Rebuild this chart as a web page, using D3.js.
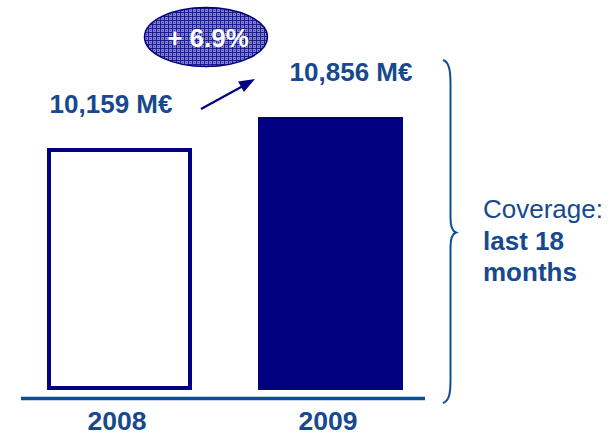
<!DOCTYPE html>
<html>
<head>
<meta charset="utf-8">
<script src="https://cdn.jsdelivr.net/npm/d3@7"></script>
<style>
  html, body { margin: 0; padding: 0; background: #fff; }
  svg { display: block; font-family: Arial, "Liberation Sans", sans-serif; }
</style>
</head>
<body>
<svg id="chart" width="615" height="435"></svg>
<script>
// Revenue by year (M€)
const years = ["2008", "2009"];
const revenue = [10159, 10856];
const valueLabels = ["10,159 M€", "10,856 M€"];
const growthLabel = "+ 6.9%";
const coverageLines = [
  { text: "Coverage:", bold: false },
  { text: "last 18", bold: true },
  { text: "months", bold: true }
];

const navy = "#000080";
const textBlue = "#17498f";
const axisBlue = "#0f4c94";

const svg = d3.select("#chart");

// Scales
const x = d3.scaleBand()
  .domain(years)
  .range([14, 436])
  .paddingInner(0.3128)
  .paddingOuter(0.1564);

const y = d3.scaleLinear()
  .domain([4718, 10856])
  .range([390, 117]);

// Pattern used to fill the growth bubble
const defs = svg.append("defs");
const pat = defs.append("pattern")
  .attr("id", "mesh")
  .attr("patternUnits", "userSpaceOnUse")
  .attr("width", 4).attr("height", 4);
pat.append("rect").attr("width", 4).attr("height", 4).attr("fill", "#8484c8");
pat.append("rect").attr("width", 4).attr("height", 1).attr("fill", "#1c1c8c");
pat.append("rect").attr("width", 1).attr("height", 4).attr("fill", "#1c1c8c");
pat.append("rect").attr("x", 2).attr("y", 2).attr("width", 1).attr("height", 1).attr("fill", "#3a3aa0");

// Bars: first year outlined, second year solid
const sw = 4;
svg.selectAll("rect.bar")
  .data(years)
  .join("rect")
  .attr("class", "bar")
  .attr("x", (d, i) => i === 0 ? x(d) + sw / 2 : x(d))
  .attr("y", (d, i) => i === 0 ? y(revenue[i]) + sw / 2 : y(revenue[i]))
  .attr("width", (d, i) => i === 0 ? x.bandwidth() - sw : x.bandwidth())
  .attr("height", (d, i) => i === 0 ? y.range()[0] - y(revenue[i]) - sw : y.range()[0] - y(revenue[i]))
  .attr("fill", (d, i) => i === 0 ? "#fff" : navy)
  .attr("stroke", (d, i) => i === 0 ? navy : "none")
  .attr("stroke-width", sw);

// Baseline
svg.append("line")
  .attr("x1", 21).attr("x2", 425)
  .attr("y1", 398.5).attr("y2", 398.5)
  .attr("stroke", axisBlue)
  .attr("stroke-width", 3.5);

// Year labels
svg.selectAll("text.year")
  .data(years)
  .join("text")
  .attr("class", "year")
  .attr("x", d => x(d) + x.bandwidth() / 2 - 2.5)
  .attr("y", 430)
  .attr("text-anchor", "middle")
  .attr("font-weight", "bold")
  .attr("font-size", 26.5)
  .attr("fill", textBlue)
  .text(d => d);

// Value labels above the bars
const labelDx = [-8.5, 20.5];
const labelDy = [-35, -36];
svg.selectAll("text.value")
  .data(years)
  .join("text")
  .attr("class", "value")
  .attr("x", (d, i) => x(d) + x.bandwidth() / 2 + labelDx[i])
  .attr("y", (d, i) => y(revenue[i]) + labelDy[i])
  .attr("text-anchor", "middle")
  .attr("font-weight", "bold")
  .attr("font-size", 26)
  .attr("fill", textBlue)
  .text((d, i) => valueLabels[i]);

// Growth arrow
svg.append("line")
  .attr("x1", 201).attr("y1", 109)
  .attr("x2", 243).attr("y2", 86)
  .attr("stroke", navy)
  .attr("stroke-width", 2.2);

const ang = Math.atan2(79 - 109, 255 - 201);
const tip = [255, 79];
const len = 16, half = 6;
const bx = tip[0] - len * Math.cos(ang), by = tip[1] - len * Math.sin(ang);
svg.append("path")
  .attr("d", d3.line()([
    tip,
    [bx + half * Math.sin(ang), by - half * Math.cos(ang)],
    [bx - half * Math.sin(ang), by + half * Math.cos(ang)]
  ]) + "Z")
  .attr("fill", navy);

// Growth bubble
svg.append("ellipse")
  .attr("cx", 206).attr("cy", 37)
  .attr("rx", 61.5).attr("ry", 29.5)
  .attr("fill", "url(#mesh)")
  .attr("stroke", navy)
  .attr("stroke-width", 1.5);

svg.append("text")
  .attr("x", 208).attr("y", 47)
  .attr("text-anchor", "middle")
  .attr("font-weight", "bold")
  .attr("font-size", 26)
  .attr("fill", "#fff")
  .text(growthLabel);

// Brace spanning the chart height
const brace = d3.path();
brace.moveTo(443, 60);
brace.bezierCurveTo(449, 62, 450.5, 70, 450.5, 84);
brace.lineTo(450.5, 218);
brace.bezierCurveTo(450.5, 226, 452, 231, 456, 232.5);
brace.bezierCurveTo(452, 234, 450.5, 239, 450.5, 247);
brace.lineTo(450.5, 380);
brace.bezierCurveTo(450.5, 394, 449, 401, 443, 403);
svg.append("path")
  .attr("d", brace.toString())
  .attr("fill", "none")
  .attr("stroke", axisBlue)
  .attr("stroke-width", 2);

// Coverage note
svg.selectAll("text.note")
  .data(coverageLines)
  .join("text")
  .attr("class", "note")
  .attr("x", 483)
  .attr("y", (d, i) => 218 + i * 31.5)
  .attr("font-size", 26)
  .attr("font-weight", d => d.bold ? "bold" : "normal")
  .attr("fill", textBlue)
  .text(d => d.text);
</script>
</body>
</html>
